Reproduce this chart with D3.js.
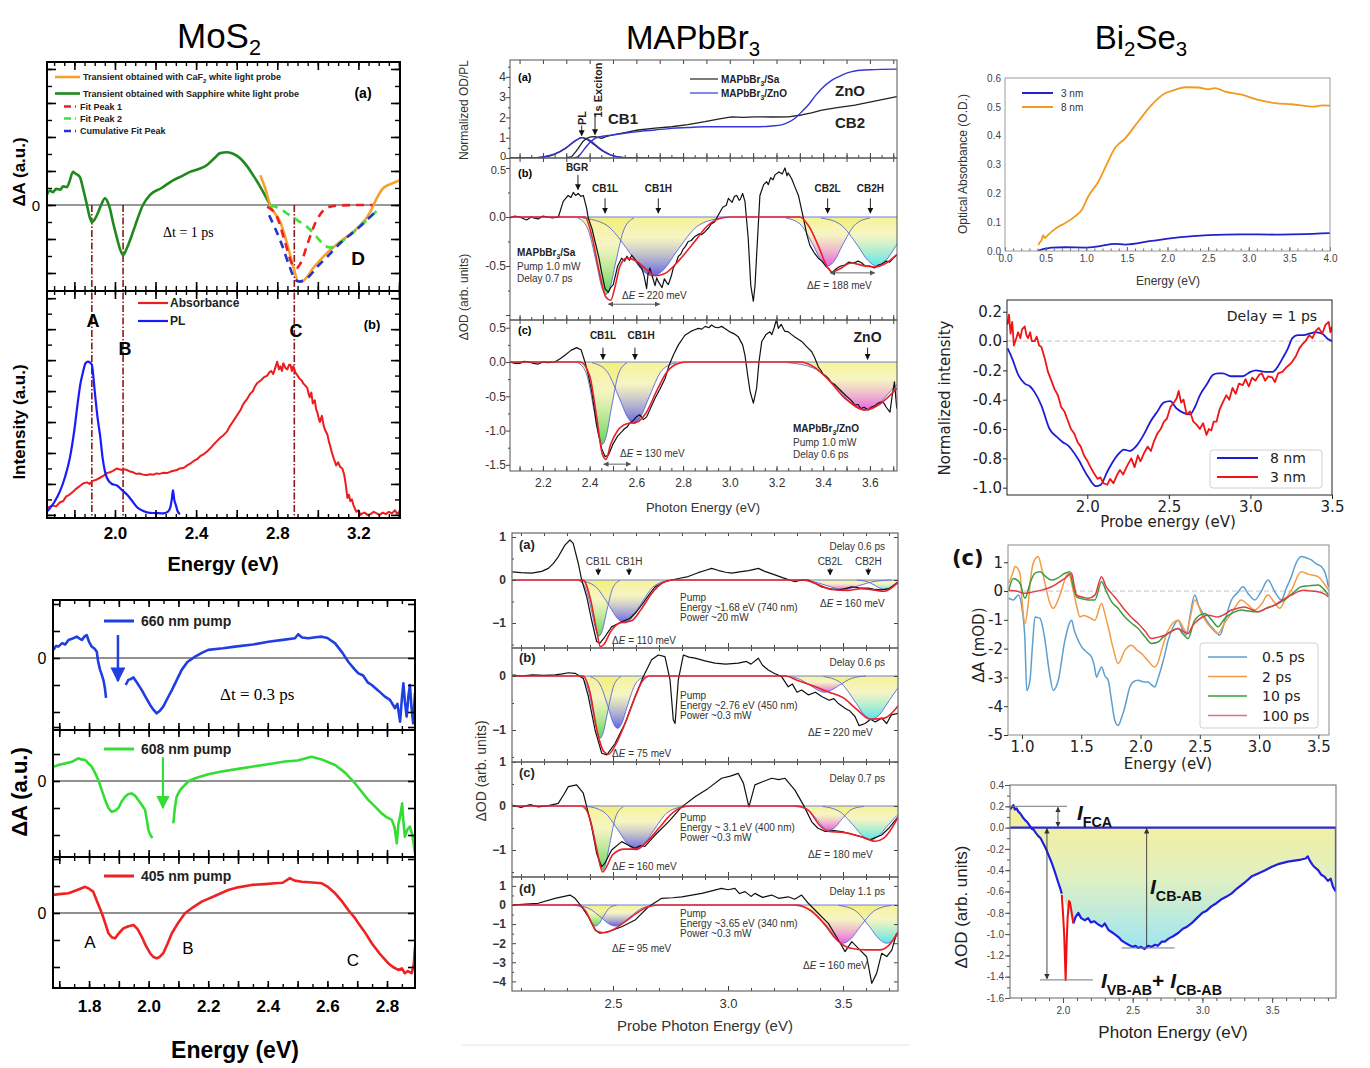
<!DOCTYPE html>
<html>
<head>
<meta charset="utf-8">
<script src="https://cdn.jsdelivr.net/npm/d3@7"></script>
<style>
body{margin:0;background:#fff;}
svg{display:block;font-family:"Liberation Sans",Arial,sans-serif;}
</style>
</head>
<body>
<div id="container"></div>
<script>
// ================= DATA =================
// --- MoS2 (a): transient spectra, energy (eV) vs dA (arb.)
const mosA_sapphire = [[1.664,0.12],[1.68,0.17],[1.694,0.15],[1.71,0.19],[1.73,0.18],[1.745,0.22],[1.763,0.21],[1.775,0.27],[1.793,0.39],[1.805,0.37],[1.827,0.33],[1.845,0.17],[1.862,0.0],[1.875,-0.14],[1.886,-0.2],[1.9,-0.17],[1.911,-0.12],[1.93,-0.01],[1.951,0.08],[1.965,0.03],[1.975,-0.04],[1.99,-0.2],[2.01,-0.39],[2.025,-0.52],[2.04,-0.59],[2.06,-0.5],[2.084,-0.35],[2.11,-0.17],[2.138,0.0],[2.173,0.12],[2.23,0.2],[2.286,0.29],[2.33,0.34],[2.37,0.39],[2.41,0.42],[2.454,0.47],[2.49,0.55],[2.519,0.61],[2.553,0.62],[2.585,0.6],[2.617,0.55],[2.65,0.46],[2.681,0.35],[2.71,0.24],[2.731,0.15],[2.765,0.0]];
const mosA_caf2 = [[2.716,0.35],[2.74,0.2],[2.765,0.0],[2.815,-0.2],[2.864,-0.59],[2.885,-0.78],[2.904,-0.9],[2.928,-0.89],[2.978,-0.74],[3.047,-0.56],[3.111,-0.43],[3.195,-0.27],[3.259,-0.08],[3.274,0.0],[3.323,0.2],[3.373,0.26],[3.405,0.29]];
const mosA_fit1 = [[2.75,-0.02],[2.8,-0.15],[2.84,-0.45],[2.87,-0.68],[2.895,-0.74],[2.92,-0.66],[2.95,-0.45],[2.99,-0.2],[3.03,-0.06],[3.08,-0.01],[3.2,0.0],[3.27,0.0]];
const mosA_fit2 = [[2.765,0.0],[2.81,-0.04],[2.86,-0.12],[2.9,-0.18],[2.948,-0.26],[2.996,-0.38],[3.03,-0.47],[3.06,-0.5],[3.1,-0.46],[3.15,-0.37],[3.2,-0.27],[3.25,-0.16],[3.29,-0.07]];
const mosA_cum = [[2.76,-0.12],[2.82,-0.45],[2.86,-0.72],[2.889,-0.88],[2.91,-0.9],[2.948,-0.86],[3.0,-0.72],[3.05,-0.6],[3.11,-0.45],[3.195,-0.28],[3.284,-0.08]];
const mosMarks = [["A",1.886],["B",2.04],["C",2.884]];
// --- MoS2 (b): absorbance and PL
const mosB_pl = [[1.664,0.02],[1.7,0.08],[1.728,0.15],[1.755,0.25],[1.778,0.37],[1.8,0.55],[1.817,0.73],[1.83,0.85],[1.842,0.92],[1.855,0.98],[1.867,0.99],[1.876,0.985],[1.886,0.97],[1.901,0.79],[1.915,0.62],[1.926,0.52],[1.94,0.36],[1.96,0.24],[1.985,0.2],[2.01,0.19],[2.035,0.16],[2.06,0.13],[2.085,0.09],[2.109,0.05],[2.14,0.025],[2.173,0.013],[2.2,0.012],[2.237,0.01],[2.26,0.02],[2.272,0.045],[2.28,0.1],[2.286,0.16],[2.292,0.1],[2.301,0.06],[2.31,0.02],[2.321,0.005]];
const mosB_abs = [[1.664,0.045],[1.69,0.06],[1.71,0.055],[1.728,0.08],[1.745,0.09],[1.76,0.12],[1.775,0.13],[1.793,0.15],[1.81,0.17],[1.83,0.19],[1.845,0.205],[1.862,0.21],[1.875,0.2],[1.89,0.22],[1.905,0.225],[1.926,0.24],[1.94,0.25],[1.96,0.27],[1.975,0.275],[1.99,0.285],[2.01,0.3],[2.02,0.295],[2.035,0.29],[2.045,0.295],[2.059,0.29],[2.075,0.28],[2.09,0.275],[2.105,0.265],[2.12,0.268],[2.14,0.26],[2.158,0.258],[2.175,0.262],[2.19,0.26],[2.205,0.268],[2.22,0.265],[2.24,0.272],[2.257,0.27],[2.275,0.28],[2.29,0.285],[2.305,0.29],[2.32,0.3],[2.34,0.305],[2.356,0.32],[2.375,0.335],[2.39,0.35],[2.405,0.36],[2.42,0.38],[2.44,0.395],[2.454,0.41],[2.47,0.43],[2.49,0.46],[2.505,0.48],[2.52,0.5],[2.535,0.515],[2.553,0.54],[2.565,0.57],[2.58,0.6],[2.595,0.63],[2.61,0.66],[2.62,0.68],[2.63,0.71],[2.64,0.73],[2.652,0.75],[2.665,0.78],[2.68,0.8],[2.69,0.83],[2.7,0.85],[2.71,0.86],[2.72,0.87],[2.735,0.89],[2.751,0.9],[2.76,0.92],[2.77,0.93],[2.78,0.91],[2.79,0.95],[2.8,0.99],[2.808,0.94],[2.815,0.96],[2.823,0.93],[2.83,0.98],[2.84,0.95],[2.85,0.94],[2.858,0.97],[2.865,0.97],[2.872,0.93],[2.879,0.96],[2.89,0.92],[2.9,0.9],[2.91,0.88],[2.92,0.87],[2.928,0.85],[2.935,0.84],[2.948,0.82],[2.955,0.78],[2.96,0.76],[2.968,0.79],[2.975,0.72],[2.985,0.74],[2.992,0.68],[2.998,0.66],[3.005,0.62],[3.01,0.6],[3.02,0.64],[3.028,0.58],[3.035,0.55],[3.047,0.52],[3.055,0.47],[3.06,0.45],[3.07,0.4],[3.077,0.37],[3.085,0.34],[3.09,0.32],[3.1,0.34],[3.11,0.31],[3.121,0.3],[3.13,0.26],[3.137,0.2],[3.146,0.11],[3.153,0.13],[3.16,0.09],[3.168,0.1],[3.175,0.065],[3.183,0.04],[3.19,0.02],[3.2,0.03],[3.21,0.0],[3.22,0.01],[3.23,0.015],[3.245,0.0],[3.26,0.005],[3.275,0.02],[3.29,0.01],[3.305,0.0],[3.32,0.015],[3.335,0.005],[3.35,0.02],[3.365,0.01],[3.38,0.03],[3.39,0.01],[3.405,0.02]];
// --- MoS2 bottom: three pump wavelengths (null = gap at pump scatter)
const mos660 = [[1.68,0.3],[1.69,0.45],[1.697,0.42],[1.71,0.55],[1.72,0.5],[1.731,0.67],[1.745,0.72],[1.759,0.79],[1.768,0.72],[1.776,0.67],[1.785,0.8],[1.792,0.85],[1.8,0.6],[1.809,0.42],[1.818,0.35],[1.826,0.23],[1.83,-0.1],[1.837,-0.44],[1.842,-0.6],[1.848,-0.81],[1.853,-1.1],[1.857,-1.48],[1.89,null],[1.923,-1.0],[1.932,-0.81],[1.94,-0.78],[1.949,-0.72],[1.96,-0.9],[1.977,-1.19],[1.99,-1.45],[2.005,-1.74],[2.015,-1.9],[2.027,-2.05],[2.038,-1.95],[2.049,-1.8],[2.063,-1.5],[2.078,-1.19],[2.095,-0.8],[2.111,-0.44],[2.13,-0.15],[2.156,0.05],[2.18,0.2],[2.2,0.3],[2.25,0.36],[2.29,0.42],[2.35,0.5],[2.402,0.6],[2.45,0.67],[2.491,0.73],[2.502,0.88],[2.515,0.76],[2.536,0.73],[2.56,0.77],[2.581,0.79],[2.6,0.74],[2.626,0.54],[2.65,0.2],[2.67,-0.14],[2.69,-0.4],[2.704,-0.57],[2.72,-0.65],[2.735,-0.9],[2.749,-1.0],[2.77,-1.2],[2.793,-1.43],[2.81,-1.55],[2.827,-1.86],[2.835,-1.7],[2.844,-2.36],[2.85,-1.5],[2.855,-0.94],[2.86,-1.6],[2.866,-2.17],[2.872,-1.4],[2.877,-1.0],[2.882,-1.8],[2.888,-2.42],[2.894,-1.3]];
const mos608 = [[1.68,0.53],[1.7,0.6],[1.719,0.65],[1.74,0.7],[1.764,0.84],[1.775,0.8],[1.787,0.78],[1.798,0.65],[1.809,0.53],[1.82,0.3],[1.831,0.04],[1.843,-0.35],[1.854,-0.7],[1.865,-1.0],[1.876,-1.14],[1.887,-1.1],[1.898,-1.01],[1.91,-0.75],[1.921,-0.58],[1.932,-0.48],[1.943,-0.46],[1.955,-0.55],[1.965,-0.7],[1.978,-0.9],[1.988,-1.07],[1.995,-1.5],[1.999,-1.81],[2.006,-2.0],[2.012,-2.12],[2.05,null],[2.083,-1.57],[2.088,-1.0],[2.094,-0.58],[2.105,-0.35],[2.116,-0.21],[2.135,0.0],[2.156,0.1],[2.2,0.25],[2.245,0.35],[2.3,0.45],[2.346,0.53],[2.4,0.62],[2.458,0.72],[2.5,0.76],[2.547,0.9],[2.58,0.8],[2.626,0.59],[2.66,0.3],[2.693,-0.09],[2.715,-0.4],[2.737,-0.7],[2.76,-0.95],[2.782,-1.2],[2.8,-1.35],[2.816,-1.44],[2.825,-1.7],[2.833,-2.31],[2.838,-1.6],[2.844,-1.32],[2.851,-0.83],[2.855,-1.5],[2.86,-2.06],[2.868,-1.8],[2.877,-1.69],[2.885,-2.0],[2.894,-2.68]];
const mos405 = [[1.68,0.67],[1.7,0.7],[1.731,0.73],[1.76,0.85],[1.787,0.97],[1.8,0.9],[1.814,0.79],[1.828,0.4],[1.843,-0.01],[1.855,-0.4],[1.865,-0.75],[1.876,-0.9],[1.887,-0.94],[1.9,-0.75],[1.915,-0.57],[1.93,-0.5],[1.949,-0.44],[1.963,-0.6],[1.977,-0.88],[1.99,-1.2],[2.005,-1.49],[2.015,-1.62],[2.027,-1.68],[2.038,-1.62],[2.049,-1.49],[2.063,-1.15],[2.078,-0.75],[2.1,-0.35],[2.122,-0.01],[2.15,0.22],[2.178,0.42],[2.22,0.62],[2.267,0.85],[2.3,0.95],[2.346,1.04],[2.39,1.07],[2.424,1.1],[2.45,1.12],[2.474,1.29],[2.49,1.2],[2.514,1.16],[2.55,1.13],[2.581,1.1],[2.6,0.98],[2.626,0.73],[2.65,0.42],[2.67,0.11],[2.69,-0.15],[2.704,-0.38],[2.725,-0.7],[2.749,-1.12],[2.775,-1.5],[2.804,-1.86],[2.82,-2.0],[2.838,-2.11],[2.85,-2.05],[2.86,-2.23],[2.87,-2.15],[2.883,-2.23],[2.89,-1.9],[2.894,-1.25]];

// --- MAPbBr3 top (a): normalized OD / PL
const mapA_sa = [[2.3,0.0],[2.323,0.07],[2.34,0.3],[2.351,0.48],[2.37,0.8],[2.387,0.97],[2.405,1.04],[2.423,1.05],[2.44,1.0],[2.451,0.97],[2.47,1.05],[2.494,1.13],[2.55,1.25],[2.608,1.38],[2.68,1.47],[2.751,1.54],[2.82,1.64],[2.894,1.79],[2.95,1.92],[3.008,2.03],[3.06,2.0],[3.108,2.03],[3.18,2.02],[3.251,2.03],[3.308,2.12],[3.35,2.22],[3.394,2.36],[3.46,2.48],[3.536,2.61],[3.62,2.8],[3.715,3.02]];
const mapA_zno = [[2.33,0.0],[2.351,0.07],[2.365,0.25],[2.38,0.48],[2.4,0.75],[2.423,0.97],[2.45,1.06],[2.494,1.13],[2.55,1.22],[2.608,1.3],[2.68,1.38],[2.751,1.46],[2.82,1.5],[2.894,1.54],[3.0,1.54],[3.108,1.54],[3.18,1.58],[3.222,1.63],[3.25,1.75],[3.279,1.96],[3.31,2.3],[3.336,2.61],[3.365,3.05],[3.394,3.43],[3.43,3.78],[3.465,4.0],[3.5,4.18],[3.536,4.29],[3.6,4.35],[3.715,4.38]];
const mapA_plSa = [[2.06,0],[2.15,0.0],[2.2,0.04],[2.25,0.18],[2.3,0.5],[2.34,0.85],[2.366,1.0],[2.39,0.9],[2.42,0.65],[2.45,0.38],[2.5,0.1],[2.55,0.02],[2.62,0]];
const mapA_plZno = [[2.06,0],[2.15,0.0],[2.2,0.05],[2.25,0.2],[2.3,0.52],[2.34,0.87],[2.37,1.0],[2.4,0.88],[2.43,0.6],[2.46,0.34],[2.51,0.08],[2.56,0.01],[2.62,0],[2.808,0]];
// --- MAPbBr3 top (b): MAPbBr3/Sa
const mapB_data = [[2.06,-0.01],[2.08,0.01],[2.1,0.0],[2.12,-0.02],[2.13,-0.03],[2.15,0.0],[2.16,-0.01],[2.18,-0.02],[2.2,0.01],[2.22,0.0],[2.24,-0.01],[2.266,0.0],[2.287,0.16],[2.308,0.22],[2.32,0.2],[2.33,0.25],[2.34,0.22],[2.351,0.24],[2.362,0.21],[2.373,0.22],[2.387,0.09],[2.394,-0.01],[2.41,-0.12],[2.423,-0.25],[2.44,-0.42],[2.451,-0.56],[2.466,-0.73],[2.48,-0.77],[2.49,-0.72],[2.501,-0.69],[2.52,-0.5],[2.537,-0.42],[2.55,-0.45],[2.56,-0.4],[2.57,-0.44],[2.58,-0.39],[2.6,-0.45],[2.615,-0.5],[2.623,-0.52],[2.633,-0.6],[2.644,-0.73],[2.65,-0.58],[2.658,-0.52],[2.67,-0.62],[2.68,-0.7],[2.687,-0.62],[2.694,-0.66],[2.71,-0.72],[2.72,-0.63],[2.73,-0.67],[2.737,-0.69],[2.75,-0.6],[2.758,-0.52],[2.77,-0.47],[2.78,-0.4],[2.79,-0.38],[2.8,-0.33],[2.81,-0.3],[2.822,-0.25],[2.835,-0.24],[2.85,-0.2],[2.87,-0.17],[2.88,-0.18],[2.894,-0.15],[2.91,-0.11],[2.92,-0.07],[2.935,-0.05],[2.951,0.02],[2.97,0.1],[2.985,0.12],[2.994,0.19],[3.01,0.15],[3.02,0.21],[3.03,0.22],[3.04,0.17],[3.045,0.18],[3.055,0.24],[3.065,0.16],[3.079,-0.22],[3.09,-0.7],[3.101,-0.86],[3.108,-0.7],[3.115,-0.39],[3.129,0.22],[3.145,0.33],[3.158,0.36],[3.165,0.33],[3.175,0.4],[3.185,0.38],[3.194,0.43],[3.21,0.46],[3.225,0.44],[3.236,0.5],[3.245,0.42],[3.25,0.45],[3.265,0.39],[3.28,0.3],[3.294,0.22],[3.305,0.1],[3.315,-0.01],[3.33,-0.18],[3.343,-0.29],[3.36,-0.36],[3.379,-0.42],[3.395,-0.45],[3.41,-0.5],[3.425,-0.53],[3.436,-0.57],[3.45,-0.54],[3.46,-0.52],[3.475,-0.5],[3.493,-0.49],[3.51,-0.46],[3.53,-0.47],[3.55,-0.45],[3.565,-0.47],[3.58,-0.5],[3.6,-0.5],[3.62,-0.52],[3.636,-0.49],[3.65,-0.48],[3.67,-0.45],[3.685,-0.46],[3.7,-0.42],[3.715,-0.39]];
const mapB_fit = [[2.06,0],[2.38,0],[2.41,-0.2],[2.44,-0.55],[2.47,-0.82],[2.49,-0.85],[2.51,-0.7],[2.53,-0.5],[2.56,-0.42],[2.6,-0.45],[2.65,-0.55],[2.68,-0.6],[2.72,-0.58],[2.78,-0.45],[2.85,-0.25],[2.9,-0.1],[2.95,-0.02],[3.0,0],[3.3,0],[3.34,-0.1],[3.38,-0.3],[3.42,-0.52],[3.44,-0.56],[3.47,-0.53],[3.52,-0.47],[3.58,-0.5],[3.62,-0.51],[3.67,-0.47],[3.716,-0.38]];
const mapB_cb1l = [[2.35,-0.01],[2.39,-0.11],[2.43,-0.48],[2.45,-0.7],[2.47,-0.79],[2.49,-0.7],[2.51,-0.48],[2.55,-0.11],[2.59,-0.01]];
const mapB_cb1h = [[2.37,-0.01],[2.47,-0.08],[2.57,-0.36],[2.62,-0.53],[2.67,-0.6],[2.72,-0.53],[2.77,-0.36],[2.87,-0.08],[2.97,-0.01]];
const mapB_cb2l = [[3.24,-0.01],[3.3,-0.07],[3.36,-0.3],[3.39,-0.44],[3.42,-0.5],[3.45,-0.44],[3.48,-0.3],[3.54,-0.07],[3.6,-0.01]];
const mapB_cb2h = [[3.39,-0.01],[3.47,-0.07],[3.55,-0.3],[3.59,-0.44],[3.63,-0.5],[3.67,-0.44],[3.71,-0.3],[3.79,-0.07],[3.87,-0.01]];
// --- MAPbBr3 top (c): MAPbBr3/ZnO
const mapC_data = [[2.06,0.0],[2.08,-0.02],[2.1,-0.02],[2.12,0.01],[2.14,0.0],[2.16,-0.02],[2.18,-0.03],[2.2,0.0],[2.22,-0.01],[2.251,0.0],[2.275,0.05],[2.294,0.1],[2.32,0.17],[2.344,0.21],[2.363,0.18],[2.38,0.0],[2.395,-0.2],[2.409,-0.43],[2.43,-0.92],[2.451,-1.26],[2.466,-1.38],[2.48,-1.36],[2.49,-1.28],[2.501,-1.19],[2.52,-1.08],[2.537,-1.02],[2.55,-0.97],[2.56,-0.95],[2.57,-0.9],[2.58,-0.87],[2.59,-0.84],[2.6,-0.8],[2.615,-0.77],[2.63,-0.84],[2.644,-0.8],[2.66,-0.68],[2.68,-0.53],[2.7,-0.4],[2.723,-0.24],[2.74,-0.05],[2.758,0.1],[2.78,0.25],[2.808,0.39],[2.835,0.45],[2.85,0.47],[2.865,0.49],[2.88,0.48],[2.895,0.52],[2.91,0.5],[2.922,0.54],[2.935,0.51],[2.95,0.5],[2.965,0.52],[2.979,0.49],[3.0,0.44],[3.02,0.41],[3.036,0.37],[3.055,0.25],[3.065,0.1],[3.077,-0.2],[3.087,-0.43],[3.101,-0.6],[3.115,-0.38],[3.125,0.0],[3.137,0.3],[3.155,0.4],[3.172,0.44],[3.18,0.4],[3.19,0.5],[3.2,0.62],[3.208,0.49],[3.22,0.55],[3.235,0.45],[3.251,0.44],[3.265,0.4],[3.28,0.36],[3.295,0.33],[3.308,0.3],[3.33,0.22],[3.351,0.15],[3.365,0.05],[3.379,-0.07],[3.39,-0.12],[3.4,-0.18],[3.41,-0.2],[3.422,-0.24],[3.435,-0.3],[3.45,-0.33],[3.465,-0.38],[3.479,-0.43],[3.5,-0.5],[3.52,-0.56],[3.536,-0.63],[3.55,-0.62],[3.56,-0.68],[3.575,-0.66],[3.593,-0.7],[3.605,-0.66],[3.62,-0.64],[3.635,-0.6],[3.651,-0.58],[3.66,-0.6],[3.67,-0.66],[3.686,-0.73],[3.695,-0.5],[3.705,-0.29],[3.715,-0.68]];
const mapC_fit = [[2.06,0],[2.36,0],[2.4,-0.2],[2.43,-0.8],[2.455,-1.35],[2.47,-1.42],[2.49,-1.2],[2.52,-1.0],[2.56,-0.9],[2.6,-0.88],[2.64,-0.75],[2.69,-0.4],[2.73,-0.15],[2.78,-0.02],[2.82,0],[3.3,0],[3.36,-0.07],[3.42,-0.25],[3.5,-0.55],[3.58,-0.7],[3.64,-0.62],[3.716,-0.38]];
const mapC_cb1l = [[2.35,-0.01],[2.385,-0.16],[2.42,-0.73],[2.4375,-1.06],[2.455,-1.2],[2.4725,-1.06],[2.49,-0.73],[2.525,-0.16],[2.56,-0.01]];
const mapC_cb1h = [[2.41,-0.01],[2.47,-0.12],[2.53,-0.55],[2.56,-0.79],[2.59,-0.9],[2.62,-0.79],[2.65,-0.55],[2.71,-0.12],[2.77,-0.01]];
const mapC_zno = [[3.25,-0.01],[3.36,-0.09],[3.47,-0.42],[3.525,-0.62],[3.58,-0.7],[3.635,-0.62],[3.69,-0.42],[3.8,-0.09],[3.91,-0.01]];
// --- MAPbBr3 bottom (a)-(d): different pump energies
const pA_data = [[2.062,0.19],[2.1,0.17],[2.147,0.16],[2.19,0.2],[2.219,0.27],[2.24,0.38],[2.262,0.54],[2.291,0.81],[2.313,0.93],[2.327,0.85],[2.349,0.39],[2.364,0.0],[2.386,-0.39],[2.407,-0.93],[2.429,-1.43],[2.443,-1.47],[2.465,-1.32],[2.494,-1.09],[2.538,-0.97],[2.574,-0.89],[2.6,-0.75],[2.625,-0.58],[2.655,-0.35],[2.683,-0.16],[2.72,-0.05],[2.755,0.0],[2.79,0.04],[2.827,0.08],[2.87,0.17],[2.9,0.22],[2.929,0.27],[2.96,0.22],[2.99,0.18],[3.016,0.16],[3.05,0.19],[3.09,0.22],[3.132,0.27],[3.16,0.2],[3.204,0.12],[3.24,0.05],[3.291,-0.04],[3.32,0.0],[3.349,0.0],[3.38,-0.08],[3.407,-0.16],[3.44,-0.2],[3.48,-0.23],[3.51,-0.2],[3.538,-0.16],[3.57,-0.18],[3.61,-0.19],[3.64,-0.22],[3.668,-0.23],[3.7,-0.2],[3.74,-0.04]];
const pA_fit = [[2.06,0],[2.37,0],[2.4,-0.4],[2.43,-1.2],[2.445,-1.55],[2.46,-1.5],[2.49,-1.2],[2.53,-1.0],[2.58,-0.95],[2.62,-0.7],[2.67,-0.3],[2.72,-0.05],[2.76,0],[3.33,0],[3.38,-0.08],[3.45,-0.22],[3.52,-0.24],[3.58,-0.2],[3.64,-0.24],[3.68,-0.26],[3.74,-0.05]];
const pA_cb1l = [[2.35,-0.01],[2.38,-0.18],[2.41,-0.79],[2.425,-1.15],[2.44,-1.3],[2.455,-1.15],[2.47,-0.79],[2.5,-0.18],[2.53,-0.01]];
const pA_cb1h = [[2.355,-0.01],[2.42,-0.135],[2.485,-0.61],[2.5175,-0.88],[2.55,-1.0],[2.5825,-0.88],[2.615,-0.61],[2.68,-0.135],[2.745,-0.01]];
const pA_cb2l = [[3.29,0],[3.36,-0.03],[3.43,-0.13],[3.465,-0.19],[3.5,-0.22],[3.535,-0.19],[3.57,-0.13],[3.64,-0.03],[3.71,0]];
const pA_cb2h = [[3.56,0],[3.6,-0.03],[3.64,-0.13],[3.66,-0.19],[3.68,-0.22],[3.7,-0.19],[3.72,-0.13],[3.76,-0.03],[3.8,0]];
const pB_data = [[2.062,0.02],[2.1,0.0],[2.15,0.02],[2.2,0.01],[2.248,0.02],[2.28,0.04],[2.306,0.06],[2.335,0.05],[2.371,-0.04],[2.393,-0.38],[2.422,-1.0],[2.451,-1.43],[2.473,-1.46],[2.509,-1.25],[2.552,-0.88],[2.596,-0.38],[2.632,-0.01],[2.668,0.3],[2.697,0.39],[2.726,0.36],[2.748,-0.07],[2.762,-0.81],[2.77,-0.88],[2.784,-0.07],[2.806,0.39],[2.83,0.35],[2.857,0.33],[2.9,0.28],[2.943,0.24],[2.99,0.22],[3.045,0.24],[3.08,0.27],[3.1,0.22],[3.132,0.33],[3.15,0.2],[3.175,0.11],[3.2,0.05],[3.233,-0.01],[3.262,-0.2],[3.28,-0.15],[3.3,-0.3],[3.32,-0.26],[3.35,-0.35],[3.38,-0.3],[3.407,-0.38],[3.44,-0.45],[3.46,-0.42],[3.48,-0.51],[3.51,-0.6],[3.53,-0.65],[3.552,-0.75],[3.57,-0.92],[3.596,-0.88],[3.62,-0.8],[3.64,-0.85],[3.668,-0.78],[3.69,-0.88],[3.71,-0.72],[3.74,-0.69]];
const pB_fit = [[2.06,0],[2.37,0],[2.4,-0.3],[2.43,-1.0],[2.46,-1.4],[2.48,-1.45],[2.52,-1.2],[2.56,-0.8],[2.6,-0.35],[2.63,-0.08],[2.66,0],[3.25,0],[3.3,-0.08],[3.38,-0.2],[3.44,-0.3],[3.5,-0.4],[3.56,-0.62],[3.62,-0.8],[3.68,-0.78],[3.74,-0.55]];
const pB_cb1l = [[2.355,-0.01],[2.385,-0.16],[2.415,-0.7],[2.43,-1.01],[2.445,-1.15],[2.46,-1.01],[2.475,-0.7],[2.505,-0.16],[2.535,-0.01]];
const pB_cb1h = [[2.4,-0.01],[2.44,-0.13],[2.48,-0.59],[2.5,-0.86],[2.52,-0.97],[2.54,-0.86],[2.56,-0.59],[2.6,-0.13],[2.64,-0.01]];
const pB_cb2l = [[3.24,0],[3.3,-0.04],[3.36,-0.18],[3.39,-0.26],[3.42,-0.3],[3.45,-0.26],[3.48,-0.18],[3.54,-0.04],[3.6,0]];
const pB_cb2h = [[3.415,-0.01],[3.485,-0.11],[3.555,-0.49],[3.59,-0.71],[3.625,-0.8],[3.66,-0.71],[3.695,-0.49],[3.765,-0.11],[3.835,-0.01]];
const pC_data = [[2.062,0.02],[2.1,-0.03],[2.14,0.03],[2.175,-0.02],[2.22,0.01],[2.262,0.06],[2.285,0.25],[2.306,0.44],[2.342,0.48],[2.371,0.29],[2.386,-0.02],[2.407,-0.47],[2.429,-1.08],[2.451,-1.38],[2.465,-1.3],[2.494,-1.0],[2.538,-0.81],[2.57,-0.9],[2.596,-0.96],[2.62,-0.9],[2.639,-0.92],[2.683,-0.66],[2.741,-0.36],[2.799,-0.02],[2.857,0.21],[2.914,0.4],[2.972,0.63],[3.01,0.68],[3.045,0.74],[3.067,0.52],[3.091,-0.02],[3.117,0.48],[3.15,0.55],[3.19,0.63],[3.22,0.6],[3.248,0.63],[3.291,0.36],[3.328,0.02],[3.364,-0.36],[3.39,-0.5],[3.422,-0.58],[3.46,-0.56],[3.494,-0.58],[3.552,-0.66],[3.59,-0.72],[3.617,-0.77],[3.64,-0.72],[3.668,-0.66],[3.7,-0.5],[3.74,-0.24]];
const pC_fit = [[2.06,0],[2.37,0],[2.4,-0.3],[2.43,-1.0],[2.455,-1.5],[2.47,-1.4],[2.5,-1.1],[2.55,-0.98],[2.6,-0.98],[2.64,-0.85],[2.7,-0.5],[2.75,-0.2],[2.8,-0.03],[2.84,0],[3.3,0],[3.35,-0.1],[3.4,-0.45],[3.44,-0.58],[3.5,-0.6],[3.58,-0.7],[3.64,-0.8],[3.68,-0.72],[3.74,-0.25]];
const pC_cb1l = [[2.365,-0.02],[2.395,-0.2],[2.425,-0.88],[2.44,-1.28],[2.455,-1.45],[2.47,-1.28],[2.485,-0.88],[2.515,-0.2],[2.545,-0.02]];
const pC_cb1h = [[2.39,-0.01],[2.46,-0.135],[2.53,-0.61],[2.565,-0.88],[2.6,-1.0],[2.635,-0.88],[2.67,-0.61],[2.74,-0.135],[2.81,-0.01]];
const pC_cb2l = [[3.29,-0.01],[3.34,-0.07],[3.39,-0.33],[3.415,-0.49],[3.44,-0.55],[3.465,-0.49],[3.49,-0.33],[3.54,-0.07],[3.59,-0.01]];
const pC_cb2h = [[3.41,-0.01],[3.48,-0.11],[3.55,-0.47],[3.585,-0.68],[3.62,-0.77],[3.655,-0.68],[3.69,-0.47],[3.76,-0.11],[3.83,-0.01]];
const pD_data = [[2.062,0.0],[2.12,0.05],[2.175,0.09],[2.248,0.35],[2.313,0.52],[2.335,0.35],[2.364,-0.09],[2.393,-0.61],[2.422,-1.31],[2.443,-1.48],[2.48,-1.4],[2.538,-1.14],[2.596,-0.79],[2.654,-0.09],[2.712,0.35],[2.76,0.38],[2.799,0.43],[2.886,0.61],[2.972,0.87],[3.0,0.8],[3.03,0.87],[3.05,0.6],[3.074,0.7],[3.1,0.45],[3.117,0.61],[3.15,0.4],[3.19,0.52],[3.22,0.35],[3.262,0.43],[3.29,0.3],[3.32,0.52],[3.349,0.09],[3.392,-0.43],[3.436,-0.96],[3.48,-1.83],[3.509,-2.44],[3.538,-1.92],[3.574,-2.36],[3.603,-2.71],[3.625,-4.1],[3.646,-3.58],[3.668,-2.53],[3.69,-2.7],[3.712,-2.36],[3.733,-1.48]];
const pD_fit = [[2.06,0],[2.35,0],[2.38,-0.3],[2.41,-1.0],[2.43,-1.38],[2.46,-1.45],[2.5,-1.3],[2.55,-0.9],[2.6,-0.45],[2.65,-0.1],[2.7,0],[3.3,0],[3.36,-0.3],[3.42,-1.0],[3.48,-1.9],[3.53,-2.25],[3.6,-2.35],[3.66,-2.35],[3.7,-2.1],[3.74,-1.4]];
const pD_cb1l = [[2.335,-0.01],[2.365,-0.15],[2.395,-0.67],[2.41,-0.97],[2.425,-1.1],[2.44,-0.97],[2.455,-0.67],[2.485,-0.15],[2.515,-0.01]];
const pD_cb1h = [[2.33,-0.01],[2.39,-0.15],[2.45,-0.67],[2.48,-0.97],[2.51,-1.1],[2.54,-0.97],[2.57,-0.67],[2.63,-0.15],[2.69,-0.01]];
const pD_cb2l = [[3.29,-0.02],[3.36,-0.27],[3.43,-1.21],[3.465,-1.76],[3.5,-2.0],[3.535,-1.76],[3.57,-1.21],[3.64,-0.27],[3.71,-0.02]];
const pD_cb2h = [[3.48,-0.02],[3.55,-0.27],[3.62,-1.21],[3.655,-1.76],[3.69,-2.0],[3.725,-1.76],[3.76,-1.21],[3.83,-0.27],[3.9,-0.02]];

// --- Bi2Se3 panel 1: optical absorbance
const bi1_8nm = [[0.41,0.021],[0.43,0.03],[0.45,0.038],[0.47,0.055],[0.49,0.045],[0.51,0.05],[0.575,0.067],[0.656,0.084],[0.738,0.096],[0.862,0.12],[0.944,0.142],[1.026,0.19],[1.149,0.24],[1.251,0.3],[1.354,0.357],[1.477,0.39],[1.64,0.449],[1.805,0.507],[1.97,0.547],[2.092,0.559],[2.215,0.568],[2.38,0.567],[2.503,0.561],[2.585,0.565],[2.708,0.553],[2.913,0.542],[3.118,0.524],[3.323,0.513],[3.528,0.509],[3.815,0.501],[3.9,0.505],[4.0,0.504]];
const bi1_3nm = [[0.4,0.0],[0.45,0.005],[0.5,0.008],[0.575,0.012],[0.74,0.013],[0.985,0.012],[1.149,0.016],[1.354,0.025],[1.477,0.022],[1.805,0.035],[2.133,0.047],[2.503,0.055],[2.913,0.058],[3.323,0.057],[4.0,0.062]];
// --- Bi2Se3 panel 2: normalized TA at 1 ps
const bi2_8nm = [[1.512,-0.05],[1.54,-0.12],[1.577,-0.23],[1.617,-0.29],[1.65,-0.31],[1.678,-0.35],[1.719,-0.44],[1.769,-0.6],[1.82,-0.66],[1.85,-0.69],[1.88,-0.71],[1.941,-0.8],[2.002,-0.92],[2.053,-0.99],[2.083,-0.98],[2.123,-0.89],[2.184,-0.78],[2.225,-0.74],[2.26,-0.75],[2.305,-0.71],[2.35,-0.63],[2.387,-0.55],[2.43,-0.48],[2.468,-0.42],[2.508,-0.41],[2.548,-0.46],[2.59,-0.49],[2.63,-0.5],[2.66,-0.45],[2.69,-0.37],[2.73,-0.3],[2.771,-0.23],[2.8,-0.22],[2.832,-0.22],[2.88,-0.24],[2.953,-0.24],[3.0,-0.21],[3.034,-0.2],[3.09,-0.21],[3.135,-0.21],[3.17,-0.17],[3.196,-0.12],[3.23,-0.05],[3.257,0.02],[3.29,0.04],[3.318,0.04],[3.36,0.05],[3.398,0.06],[3.44,0.05],[3.48,0.01],[3.5,0.0]];
const bi2_3nm = [[1.51,0.11],[1.52,0.18],[1.53,0.05],[1.54,0.13],[1.55,-0.03],[1.565,0.02],[1.576,0.06],[1.59,0.02],[1.6,0.08],[1.617,0.1],[1.627,0.04],[1.637,0.02],[1.65,0.06],[1.66,0.0],[1.678,0.0],[1.69,0.03],[1.705,-0.03],[1.719,-0.04],[1.74,-0.12],[1.759,-0.21],[1.78,-0.27],[1.8,-0.33],[1.82,-0.37],[1.84,-0.45],[1.86,-0.48],[1.88,-0.54],[1.9,-0.6],[1.92,-0.63],[1.941,-0.69],[1.96,-0.72],[1.98,-0.78],[2.002,-0.82],[2.02,-0.86],[2.04,-0.9],[2.063,-0.94],[2.08,-0.93],[2.1,-0.97],[2.123,-0.98],[2.14,-0.94],[2.16,-0.97],[2.184,-0.91],[2.2,-0.88],[2.22,-0.91],[2.245,-0.85],[2.27,-0.8],[2.29,-0.86],[2.31,-0.78],[2.326,-0.82],[2.35,-0.76],[2.37,-0.72],[2.39,-0.75],[2.407,-0.69],[2.43,-0.63],[2.45,-0.6],[2.47,-0.55],[2.488,-0.53],[2.51,-0.45],[2.53,-0.42],[2.548,-0.39],[2.56,-0.34],[2.575,-0.42],[2.59,-0.4],[2.609,-0.5],[2.63,-0.48],[2.65,-0.55],[2.67,-0.57],[2.69,-0.6],[2.71,-0.56],[2.731,-0.64],[2.745,-0.6],[2.76,-0.61],[2.775,-0.55],[2.792,-0.55],[2.81,-0.47],[2.83,-0.42],[2.852,-0.37],[2.87,-0.4],[2.89,-0.32],[2.91,-0.36],[2.93,-0.29],[2.953,-0.3],[2.97,-0.26],[2.99,-0.31],[3.01,-0.25],[3.03,-0.27],[3.054,-0.23],[3.07,-0.22],[3.09,-0.27],[3.11,-0.24],[3.135,-0.25],[3.15,-0.28],[3.17,-0.22],[3.196,-0.21],[3.22,-0.18],[3.24,-0.16],[3.257,-0.14],[3.28,-0.1],[3.3,-0.05],[3.32,-0.02],[3.338,0.0],[3.36,0.04],[3.38,0.02],[3.4,0.07],[3.419,0.09],[3.44,0.05],[3.46,0.11],[3.48,0.13],[3.49,0.06],[3.5,0.1]];
// --- Bi2Se3 panel (c): dA (mOD) at four delays
const bic_05 = [[0.888,-0.25],[0.927,-0.31],[0.969,-0.14],[1.0,-0.6],[1.025,-1.71],[1.04,-3.45],[1.067,-3.1],[1.09,-1.8],[1.11,-0.9],[1.152,-0.95],[1.194,-1.71],[1.23,-2.8],[1.264,-3.45],[1.306,-3.1],[1.362,-1.71],[1.419,-1.01],[1.44,-1.35],[1.461,-1.59],[1.503,-1.94],[1.54,-2.1],[1.587,-2.29],[1.61,-2.6],[1.629,-2.99],[1.65,-2.8],[1.671,-2.64],[1.7,-2.95],[1.727,-3.1],[1.755,-3.8],[1.783,-4.49],[1.811,-4.67],[1.84,-4.4],[1.868,-4.03],[1.91,-3.33],[1.94,-3.15],[1.98,-3.1],[2.02,-3.15],[2.064,-3.16],[2.09,-3.25],[2.12,-3.33],[2.15,-3.0],[2.177,-2.64],[2.205,-2.2],[2.233,-1.71],[2.27,-1.3],[2.317,-1.01],[2.35,-1.3],[2.388,-1.53],[2.42,-0.8],[2.457,-0.14],[2.49,-0.5],[2.527,-0.78],[2.57,-1.1],[2.612,-1.3],[2.668,-1.53],[2.72,-0.9],[2.767,-0.31],[2.82,-0.05],[2.864,0.15],[2.91,-0.1],[2.963,-0.31],[3.02,0.0],[3.075,0.38],[3.13,0.0],[3.188,-0.31],[3.23,0.1],[3.272,0.5],[3.31,0.95],[3.356,1.2],[3.4,1.15],[3.441,1.08],[3.48,0.95],[3.525,0.85],[3.56,0.6],[3.586,0.15]];
const bic_2 = [[0.888,0.27],[0.92,0.6],[0.941,0.85],[0.983,0.62],[1.0,-0.3],[1.025,-1.13],[1.053,-0.43],[1.075,0.5],[1.095,0.97],[1.137,1.2],[1.165,0.8],[1.194,0.27],[1.23,-0.35],[1.264,-0.6],[1.29,-0.45],[1.32,-0.14],[1.39,0.62],[1.432,0.03],[1.46,-0.5],[1.489,-0.9],[1.52,-0.85],[1.559,-0.9],[1.615,-1.01],[1.671,-0.43],[1.7,-0.8],[1.727,-1.24],[1.77,-2.0],[1.811,-2.52],[1.868,-2.06],[1.924,-1.88],[1.97,-2.05],[2.008,-2.17],[2.06,-2.4],[2.12,-2.64],[2.15,-2.45],[2.177,-2.06],[2.233,-1.36],[2.317,-1.01],[2.388,-1.42],[2.42,-0.9],[2.457,-0.31],[2.527,-0.9],[2.6,-1.3],[2.654,-1.47],[2.71,-1.1],[2.767,-0.78],[2.85,-0.31],[2.9,-0.45],[2.963,-0.66],[3.02,-0.45],[3.075,-0.14],[3.13,-0.4],[3.174,-0.6],[3.22,-0.3],[3.272,0.03],[3.356,0.67],[3.42,0.58],[3.497,0.5],[3.55,0.25],[3.586,0.03]];
const bic_10 = [[0.888,0.03],[0.927,0.44],[0.983,0.27],[1.025,-0.25],[1.07,0.3],[1.11,0.62],[1.152,0.67],[1.2,0.5],[1.25,0.38],[1.3,0.45],[1.362,0.62],[1.404,0.67],[1.43,0.2],[1.461,-0.2],[1.52,-0.28],[1.559,-0.31],[1.615,-0.31],[1.671,0.32],[1.71,0.0],[1.755,-0.37],[1.81,-0.6],[1.868,-0.9],[1.92,-1.1],[1.98,-1.3],[2.04,-1.6],[2.092,-1.82],[2.148,-1.77],[2.19,-1.6],[2.233,-1.47],[2.317,-1.3],[2.36,-1.5],[2.401,-1.65],[2.457,-1.01],[2.542,-0.78],[2.6,-1.0],[2.654,-1.24],[2.71,-0.95],[2.78,-0.75],[2.85,-0.66],[2.92,-0.7],[2.99,-0.72],[3.06,-0.6],[3.131,-0.49],[3.215,-0.31],[3.29,-0.05],[3.356,0.15],[3.42,0.18],[3.497,0.21],[3.55,0.05],[3.586,-0.14]];
const bic_100 = [[0.888,0.03],[0.95,0.0],[1.025,-0.08],[1.07,-0.05],[1.11,-0.02],[1.18,0.05],[1.25,0.15],[1.31,0.3],[1.362,0.44],[1.419,0.62],[1.44,0.2],[1.461,-0.14],[1.52,-0.22],[1.559,-0.25],[1.615,-0.14],[1.671,0.5],[1.71,0.15],[1.755,-0.08],[1.81,-0.35],[1.868,-0.66],[1.92,-0.9],[1.98,-1.13],[2.04,-1.4],[2.092,-1.65],[2.15,-1.6],[2.205,-1.53],[2.26,-1.4],[2.317,-1.3],[2.36,-1.4],[2.401,-1.47],[2.44,-1.2],[2.485,-1.01],[2.57,-0.84],[2.654,-0.9],[2.71,-0.8],[2.767,-0.66],[2.82,-0.6],[2.878,-0.55],[2.94,-0.65],[2.99,-0.72],[3.06,-0.6],[3.131,-0.49],[3.2,-0.3],[3.272,-0.14],[3.33,-0.02],[3.384,0.03],[3.44,0.0],[3.497,-0.02],[3.55,-0.1],[3.586,-0.2]];
// --- Bi2Se3 panel 4: dOD with spectral-weight annotations
const bi4_blue = [[1.62,0.17],[1.632,0.19],[1.644,0.21],[1.655,0.17],[1.668,0.18],[1.68,0.15],[1.695,0.13],[1.71,0.1],[1.728,0.07],[1.745,0.05],[1.76,0.02],[1.776,-0.01],[1.79,-0.02],[1.805,-0.05],[1.823,-0.08],[1.84,-0.1],[1.855,-0.14],[1.871,-0.18],[1.885,-0.22],[1.9,-0.27],[1.919,-0.33],[1.935,-0.39],[1.95,-0.45],[1.967,-0.52],[1.98,-0.57],[1.991,-0.62],[2.03,null],[2.074,-0.9],[2.09,-0.84],[2.11,-0.8],[2.13,-0.85],[2.157,-0.87],[2.18,-0.85],[2.2,-0.89],[2.225,-0.88],[2.253,-0.91],[2.28,-0.93],[2.3,-0.9],[2.325,-0.96],[2.348,-0.98],[2.37,-1.0],[2.4,-1.03],[2.42,-1.06],[2.444,-1.08],[2.47,-1.1],[2.5,-1.12],[2.52,-1.11],[2.539,-1.13],[2.56,-1.12],[2.585,-1.14],[2.61,-1.11],[2.635,-1.12],[2.66,-1.1],[2.68,-1.11],[2.71,-1.07],[2.73,-1.07],[2.76,-1.04],[2.79,-1.02],[2.826,-0.99],[2.86,-0.95],[2.89,-0.93],[2.921,-0.9],[2.96,-0.85],[3.0,-0.8],[3.03,-0.78],[3.064,-0.74],[3.1,-0.71],[3.14,-0.67],[3.17,-0.65],[3.208,-0.62],[3.25,-0.57],[3.3,-0.52],[3.351,-0.46],[3.4,-0.43],[3.45,-0.4],[3.494,-0.37],[3.55,-0.34],[3.613,-0.32],[3.66,-0.31],[3.708,-0.3],[3.74,-0.29],[3.756,-0.27],[3.77,-0.31],[3.79,-0.35],[3.803,-0.37],[3.83,-0.4],[3.85,-0.44],[3.875,-0.46],[3.9,-0.5],[3.92,-0.48],[3.935,-0.55],[3.947,-0.58],[3.958,-0.6]];
const bi4_red = [[1.991,-0.63],[2.0,-0.8],[2.009,-1.02],[2.019,-1.43],[2.026,-1.1],[2.033,-0.85],[2.043,-0.69],[2.05,-0.7],[2.06,-0.78],[2.074,-0.9]];
const bi4_base = [[1.62,0],[3.958,0],[3.958,-0.6]];

// ================= SETUP =================
let w = 1370;
let h = 1068;
const FONT = "Liberation Sans, Arial, sans-serif";
const DJV = "DejaVu Sans, sans-serif";

let viz = d3.select("#container")
  .append("svg")
    .attr("width", w)
    .attr("height", h)
;
viz.append("rect").attr("width", w).attr("height", h).attr("fill", "#fff");
const defs = viz.append("defs");

function clipRect(id, x0, y0, x1, y1){
  defs.append("clipPath").attr("id", id)
    .append("rect").attr("x", x0).attr("y", y0).attr("width", x1-x0).attr("height", y1-y0);
  return "url(#" + id + ")";
}
function marker(id, color){
  defs.append("marker").attr("id", id)
    .attr("viewBox", "0 0 10 10").attr("refX", 9).attr("refY", 5)
    .attr("markerWidth", 6).attr("markerHeight", 6)
    .attr("orient", "auto-start-reverse")
    .append("path").attr("d", "M0,0 L10,5 L0,10 z").attr("fill", color);
}
marker("arK", "#111");
marker("arG", "#555");
marker("arBlue", "#1f3fe0");
marker("arGreen", "#33dd33");
marker("arMos", "#333");

function vgrad(id, top, bottom){
  let gr = defs.append("linearGradient").attr("id", id)
    .attr("x1", 0).attr("y1", 0).attr("x2", 0).attr("y2", 1);
  gr.append("stop").attr("offset", "0%").attr("stop-color", "#f3ef72").attr("stop-opacity", 0.75);
  gr.append("stop").attr("offset", "35%").attr("stop-color", "#f1ee9a").attr("stop-opacity", 0.6);
  gr.append("stop").attr("offset", "100%").attr("stop-color", bottom).attr("stop-opacity", 0.95);
}
vgrad("gG", "#f3ef72", "#55d455");
vgrad("gB", "#f3ef72", "#5a5ae6");
vgrad("gM", "#f3ef72", "#e25ae2");
vgrad("gC", "#f3ef72", "#4ee4ec");

function scales(xd, xr, yd, yr){
  return {x: d3.scaleLinear().domain(xd).range(xr), y: d3.scaleLinear().domain(yd).range(yr)};
}
function drawLine(g, s, data, color, width, dash, curve){
  return g.append("path").datum(data)
    .attr("d", d3.line()
      .defined(function(d){ return d[1] !== null; })
      .x(function(d){ return s.x(d[0]); })
      .y(function(d){ return s.y(d[1]); })
      .curve(curve || d3.curveLinear))
    .attr("fill", "none")
    .attr("stroke", color)
    .attr("stroke-width", width)
    .attr("stroke-dasharray", dash || null)
    .attr("stroke-linejoin", "round");
}
function tickSet(g, gen, scale, vals, len, tx, ty, color, width){
  let a = g.append("g").attr("transform", "translate(" + tx + "," + ty + ")")
    .call(gen(scale).tickValues(vals).tickSize(len).tickFormat(""));
  a.select(".domain").remove();
  a.selectAll("line").attr("stroke", color).attr("stroke-width", width);
  return a;
}
function tickLabels(g, gen, scale, vals, fmt, tx, ty, pad, st){
  let a = g.append("g").attr("transform", "translate(" + tx + "," + ty + ")")
    .call(gen(scale).tickValues(vals).tickSize(0).tickPadding(pad).tickFormat(fmt));
  a.select(".domain").remove();
  a.selectAll("line").remove();
  a.selectAll("text")
    .attr("font-size", st.fs)
    .attr("font-weight", st.fw || "normal")
    .attr("fill", st.c || "#000")
    .attr("font-family", st.ff || FONT);
  return a;
}
function rng(a, b, step){
  let out = [];
  for (let v = a; v <= b + step*0.01; v += step) out.push(Math.round(v*1000)/1000);
  return out;
}
function txt(g, x, y, str, size, opt){
  opt = opt || {};
  let t = g.append("text").attr("x", x).attr("y", y).text(str)
    .attr("font-size", size)
    .attr("font-family", opt.ff || FONT)
    .attr("font-weight", opt.fw || "normal")
    .attr("font-style", opt.fst || null)
    .attr("fill", opt.c || "#000")
    .attr("text-anchor", opt.anchor || "start");
  if (opt.rot) t.attr("transform", "rotate(" + opt.rot + "," + x + "," + y + ")");
  return t;
}
// text with subscripts: parts are strings or {sub:"..."} or {it:"..."}
function rich(g, x, y, parts, size, opt){
  opt = opt || {};
  let t = g.append("text").attr("x", x).attr("y", y)
    .attr("font-size", size)
    .attr("font-family", opt.ff || FONT)
    .attr("font-weight", opt.fw || "normal")
    .attr("fill", opt.c || "#000")
    .attr("text-anchor", opt.anchor || "start");
  if (opt.rot) t.attr("transform", "rotate(" + opt.rot + "," + x + "," + y + ")");
  let shift = 0;
  parts.forEach(function(p){
    if (typeof p === "string"){
      let s = t.append("tspan").text(p);
      if (shift){ s.attr("dy", -shift); shift = 0; }
    } else if (p.sub !== undefined){
      let d = p.dy || size*0.32;
      t.append("tspan").text(p.sub).attr("font-size", size*(p.scale || 0.68)).attr("dy", d);
      shift = d;
    } else if (p.it !== undefined){
      let s = t.append("tspan").text(p.it).attr("font-style", "italic");
      if (shift){ s.attr("dy", -shift); shift = 0; }
    }
  });
  return t;
}
function frame(g, x0, y0, x1, y1, color, width){
  g.append("rect").attr("x", x0).attr("y", y0).attr("width", x1-x0).attr("height", y1-y0)
    .attr("fill", "none").attr("stroke", color).attr("stroke-width", width);
}
function arrow(g, s, x1, y1, x2, y2, color, width, mk, both){
  let l = g.append("line")
    .attr("x1", s.x(x1)).attr("y1", s.y(y1)).attr("x2", s.x(x2)).attr("y2", s.y(y2))
    .attr("stroke", color).attr("stroke-width", width)
    .attr("marker-end", "url(#" + mk + ")");
  if (both) l.attr("marker-start", "url(#" + mk + ")");
  return l;
}

// ================= COLUMN TITLES =================
rich(viz, 219, 48, ["MoS", {sub:"2", scale:0.62, dy:7}], 35, {anchor:"middle"});
rich(viz, 693, 49, ["MAPbBr", {sub:"3", scale:0.62, dy:7}], 33, {anchor:"middle"});
rich(viz, 1141, 49, ["Bi", {sub:"2", scale:0.62, dy:7}, "Se", {sub:"3", scale:0.62, dy:7}], 33, {anchor:"middle"});

// ================= MoS2 (a) and (b) =================
let gM = viz.append("g");
const mosX = [1.665, 3.405];
let sA = scales(mosX, [47, 400], [-1.0, 1.682], [290, 62]);
let sB = scales(mosX, [47, 400], [-0.02, 1.44], [518, 292]);

// dash-dot guide lines through both panels
mosMarks.forEach(function(m){
  gM.append("line")
    .attr("x1", sA.x(m[1])).attr("x2", sA.x(m[1]))
    .attr("y1", sA.y(0)).attr("y2", sB.y(sB.y.domain()[0]))
    .attr("stroke", "#8b1a1a").attr("stroke-width", 1.6)
    .attr("stroke-dasharray", "7,2,1.5,2");
});
// zero line panel a
gM.append("line").attr("x1", 47).attr("x2", 400).attr("y1", sA.y(0)).attr("y2", sA.y(0))
  .attr("stroke", "#333").attr("stroke-width", 1.2);

let clipA = clipRect("clipMosA", 47, 62, 400, 290);
let cA = gM.append("g").attr("clip-path", clipA);
drawLine(cA, sA, mosA_sapphire, "#1e8a1e", 2.6, null, d3.curveMonotoneX);
drawLine(cA, sA, mosA_caf2, "#f5a030", 2.6, null, d3.curveMonotoneX);
drawLine(cA, sA, mosA_fit2, "#3fe03f", 2.6, "8,6", d3.curveMonotoneX);
drawLine(cA, sA, mosA_fit1, "#ee2020", 2.6, "8,6", d3.curveMonotoneX);
drawLine(cA, sA, mosA_cum, "#2233d0", 2.6, "8,6", d3.curveMonotoneX);

let clipB = clipRect("clipMosB", 47, 292, 400, 518);
let cB = gM.append("g").attr("clip-path", clipB);
drawLine(cB, sB, mosB_abs, "#ee1c1c", 2.0);
drawLine(cB, sB, mosB_pl, "#1a1aff", 2.2, null, d3.curveMonotoneX);

// frames and ticks
[[sA, 62, 290], [sB, 291, 518]].forEach(function(p){
  let s = p[0];
  tickSet(gM, d3.axisBottom, s.x, rng(1.7, 3.4, 0.05), -4, 0, p[2], "#000", 1.4);
  tickSet(gM, d3.axisBottom, s.x, rng(1.8, 3.4, 0.2), -8, 0, p[2], "#000", 1.6);
  tickSet(gM, d3.axisTop, s.x, rng(1.7, 3.4, 0.05), -4, 0, p[1], "#000", 1.4);
  tickSet(gM, d3.axisTop, s.x, rng(1.8, 3.4, 0.2), -8, 0, p[1], "#000", 1.6);
});
tickSet(gM, d3.axisLeft, sA.y, rng(-0.8, 1.6, 0.2), -5, 47, 0, "#000", 1.4);
tickSet(gM, d3.axisRight, sA.y, rng(-0.8, 1.6, 0.2), -5, 400, 0, "#000", 1.4);
tickSet(gM, d3.axisLeft, sA.y, rng(-0.8, 1.6, 0.4), -9, 47, 0, "#000", 1.6);
tickSet(gM, d3.axisRight, sA.y, rng(-0.8, 1.6, 0.4), -9, 400, 0, "#000", 1.6);
tickSet(gM, d3.axisLeft, sB.y, rng(0, 1.4, 0.1), -5, 47, 0, "#000", 1.4);
tickSet(gM, d3.axisRight, sB.y, rng(0, 1.4, 0.1), -5, 400, 0, "#000", 1.4);
tickSet(gM, d3.axisLeft, sB.y, rng(0, 1.4, 0.2), -9, 47, 0, "#000", 1.6);
tickSet(gM, d3.axisRight, sB.y, rng(0, 1.4, 0.2), -9, 400, 0, "#000", 1.6);
frame(gM, 47, 62, 400, 291, "#000", 2);
frame(gM, 47, 291, 400, 518, "#000", 2);
tickLabels(gM, d3.axisBottom, sB.x, [2.0, 2.4, 2.8, 3.2], d3.format(".1f"), 0, 518, 9, {fs:17, fw:"bold"});
txt(gM, 223, 571, "Energy (eV)", 20, {fw:"bold", anchor:"middle"});
txt(gM, 36, sA.y(0) + 6, "0", 15, {anchor:"middle"});
txt(gM, 25, 172, "ΔA (a.u.)", 17, {fw:"bold", anchor:"middle", rot:-90});
txt(gM, 25, 422, "Intensity (a.u.)", 17, {fw:"bold", anchor:"middle", rot:-90});

// legend (a)
const legA = [
  {c:"#f5a030", dash:null, x0:55, x1:80, tx:83, y:77, parts:["Transient obtained with CaF", {sub:"2"}, " white light probe"]},
  {c:"#1e8a1e", dash:null, x0:55, x1:80, tx:83, y:93.5, parts:["Transient obtained with Sapphire white light probe"]},
  {c:"#ee2020", dash:"7,4", x0:64, x1:76, tx:80, y:106.5, parts:["Fit Peak 1"]},
  {c:"#3fe03f", dash:"7,4", x0:64, x1:76, tx:80, y:118.5, parts:["Fit Peak 2"]},
  {c:"#2233d0", dash:"7,4", x0:64, x1:76, tx:80, y:131, parts:["Cumulative Fit Peak"]}
];
legA.forEach(function(l){
  gM.append("line").attr("x1", l.x0).attr("x2", l.x1).attr("y1", l.y).attr("y2", l.y)
    .attr("stroke", l.c).attr("stroke-width", 2.6).attr("stroke-dasharray", l.dash);
  rich(gM, l.tx, l.y + 3.2, l.parts, 9, {fw:"bold", c:"#222"});
});
txt(gM, 363, 98, "(a)", 14, {fw:"bold", anchor:"middle"});
txt(gM, 163, 237, "Δt =  1 ps", 14, {ff:"Liberation Serif, serif"});
txt(gM, 358, 265, "D", 19, {fw:"bold", anchor:"middle"});
// legend (b)
gM.append("line").attr("x1", 138).attr("x2", 168).attr("y1", 303).attr("y2", 303).attr("stroke", "#ee1c1c").attr("stroke-width", 2.2);
txt(gM, 170, 307, "Absorbance", 12, {fw:"bold", c:"#222"});
gM.append("line").attr("x1", 138).attr("x2", 168).attr("y1", 321).attr("y2", 321).attr("stroke", "#1a1aff").attr("stroke-width", 2.2);
txt(gM, 170, 325, "PL", 12, {fw:"bold", c:"#222"});
txt(gM, 372, 329, "(b)", 13, {fw:"bold", anchor:"middle"});
txt(gM, 93, 327, "A", 18, {fw:"bold", anchor:"middle"});
txt(gM, 125, 355, "B", 18, {fw:"bold", anchor:"middle"});
txt(gM, 296, 337, "C", 18, {fw:"bold", anchor:"middle"});

// ================= MoS2 bottom (three pumps) =================
let gM2 = viz.append("g");
const mosX2 = [1.679, 2.894];
let s1 = scales(mosX2, [53, 415], [-2.667, 2.148], [730, 600]);
let s2 = scales(mosX2, [53, 415], [-2.815, 1.889], [857, 730]);
let s3 = scales(mosX2, [53, 415], [-2.778, 2.074], [988, 857]);
const pumpSets = [
  {s:s1, y0:600, y1:730, data:mos660, c:"#1f3fe0", name:"660 nm pump", ly:621},
  {s:s2, y0:730, y1:857, data:mos608, c:"#33dd33", name:"608 nm pump", ly:749},
  {s:s3, y0:857, y1:988, data:mos405, c:"#ee2222", name:"405 nm pump", ly:876}
];
pumpSets.forEach(function(p, i){
  let s = p.s;
  gM2.append("line").attr("x1", 53).attr("x2", 415).attr("y1", s.y(0)).attr("y2", s.y(0))
    .attr("stroke", "#222").attr("stroke-width", 1.2);
  let cp = clipRect("clipMos2_" + i, 53, p.y0, 415, p.y1);
  drawLine(gM2.append("g").attr("clip-path", cp), s, p.data, p.c, 2.6);
  tickSet(gM2, d3.axisBottom, s.x, rng(1.7, 2.85, 0.05), -4, 0, p.y1, "#000", 1.4);
  tickSet(gM2, d3.axisBottom, s.x, rng(1.7, 2.8, 0.1), -7, 0, p.y1, "#000", 1.6);
  tickSet(gM2, d3.axisTop, s.x, rng(1.7, 2.85, 0.05), -4, 0, p.y0, "#000", 1.4);
  tickSet(gM2, d3.axisTop, s.x, rng(1.7, 2.8, 0.1), -7, 0, p.y0, "#000", 1.6);
  tickSet(gM2, d3.axisLeft, s.y, rng(-2, 2, 1), -7, 53, 0, "#000", 1.6);
  tickSet(gM2, d3.axisRight, s.y, rng(-2, 2, 1), -7, 415, 0, "#000", 1.6);
  frame(gM2, 53, p.y0, 415, p.y1, "#000", 2);
  gM2.append("line").attr("x1", 104).attr("x2", 134).attr("y1", p.ly).attr("y2", p.ly)
    .attr("stroke", p.c).attr("stroke-width", 3);
  txt(gM2, 141, p.ly + 5, p.name, 14, {fw:"bold", c:"#222"});
  txt(gM2, 42, s.y(0) + 6, "0", 16, {anchor:"middle"});
});
// pump arrows
gM2.append("line").attr("x1", s1.x(1.897)).attr("x2", s1.x(1.897)).attr("y1", s1.y(0.85)).attr("y2", s1.y(-0.85))
  .attr("stroke", "#1f3fe0").attr("stroke-width", 2.5).attr("marker-end", "url(#arBlue)");
gM2.append("line").attr("x1", s2.x(2.048)).attr("x2", s2.x(2.048)).attr("y1", s2.y(0.88)).attr("y2", s2.y(-1.0))
  .attr("stroke", "#33dd33").attr("stroke-width", 2.2).attr("marker-end", "url(#arGreen)");
txt(gM2, 220, 700, "Δt =  0.3 ps", 17, {ff:"Liberation Serif, serif"});
txt(gM2, 90, 948, "A", 17, {anchor:"middle"});
txt(gM2, 188, 954, "B", 17, {anchor:"middle"});
txt(gM2, 353, 966, "C", 17, {anchor:"middle"});
tickLabels(gM2, d3.axisBottom, s3.x, rng(1.8, 2.8, 0.2), d3.format(".1f"), 0, 988, 12, {fs:17, fw:"bold"});
txt(gM2, 235, 1058, "Energy (eV)", 23, {fw:"bold", anchor:"middle"});
txt(gM2, 27, 792, "ΔA (a.u.)", 22, {fw:"bold", anchor:"middle", rot:-90});

// ================= MAPbBr3 top figure =================
let gP = viz.append("g");
const mapX = [2.059, 3.716];
let pa = scales(mapX, [510, 897], [0, 4.83], [158, 60]);
let pb = scales(mapX, [510, 897], [-1.051, 0.602], [320, 158]);
let pc = scales(mapX, [510, 897], [-1.59, 0.613], [471, 320]);

function fitPanel(g, s, clipId, box, fills, data, fit){
  let c = g.append("g").attr("clip-path", clipRect(clipId, box[0], box[1], box[2], box[3]));
  fills.forEach(function(f){
    c.append("path").datum(f[0])
      .attr("d", d3.area()
        .x(function(d){ return s.x(d[0]); })
        .y0(s.y(0))
        .y1(function(d){ return s.y(d[1]); })
        .curve(d3.curveMonotoneX))
      .attr("fill", "url(#" + f[1] + ")");
  });
  fills.forEach(function(f){ drawLine(c, s, f[0], "#5866d8", 0.9, null, d3.curveMonotoneX); });
  drawLine(c, s, [[s.x.domain()[0], 0], [s.x.domain()[1], 0]], "#6270e0", 0.9);
  if (data) drawLine(c, s, data, "#111", 1.2);
  if (fit) drawLine(c, s, fit, "#e8202a", 1.6, null, d3.curveMonotoneX);
}

// (a)
let cPa = gP.append("g").attr("clip-path", clipRect("clipPa", 510, 60, 897, 158));
drawLine(cPa, pa, mapA_plSa, "#222", 1.3, null, d3.curveMonotoneX);
drawLine(cPa, pa, mapA_plZno, "#3535d8", 1.3, null, d3.curveMonotoneX);
drawLine(cPa, pa, mapA_sa, "#222", 1.3);
drawLine(cPa, pa, mapA_zno, "#3535d8", 1.4, null, d3.curveMonotoneX);
// (b), (c)
fitPanel(gP, pb, "clipPb", [510, 158, 897, 320],
  [[mapB_cb1h, "gB"], [mapB_cb1l, "gG"], [mapB_cb2l, "gM"], [mapB_cb2h, "gC"]], mapB_data, mapB_fit);
fitPanel(gP, pc, "clipPc", [510, 320, 897, 471],
  [[mapC_cb1h, "gB"], [mapC_cb1l, "gG"], [mapC_zno, "gM"]], mapC_data, mapC_fit);

[[pa, 60, 158], [pb, 158, 320], [pc, 320, 471]].forEach(function(p){
  let s = p[0];
  tickSet(gP, d3.axisBottom, s.x, rng(2.1, 3.7, 0.05), -3, 0, p[2], "#444", 1);
  tickSet(gP, d3.axisBottom, s.x, rng(2.1, 3.7, 0.1), -5, 0, p[2], "#444", 1);
  tickSet(gP, d3.axisTop, s.x, rng(2.1, 3.7, 0.1), -4, 0, p[1], "#444", 1);
  frame(gP, 510, p[1], 897, p[2], "#555", 1);
});
tickSet(gP, d3.axisLeft, pa.y, [0, 1, 2, 3, 4], 4, 510, 0, "#444", 1);
tickSet(gP, d3.axisLeft, pa.y, [0.5, 1.5, 2.5, 3.5, 4.5], 2, 510, 0, "#444", 1);
tickSet(gP, d3.axisLeft, pb.y, [-1.0, -0.5, 0, 0.5], 4, 510, 0, "#444", 1);
tickSet(gP, d3.axisLeft, pb.y, [-0.75, -0.25, 0.25], 2, 510, 0, "#444", 1);
tickSet(gP, d3.axisLeft, pc.y, [-1.5, -1.0, -0.5, 0, 0.5], 4, 510, 0, "#444", 1);
tickSet(gP, d3.axisLeft, pc.y, [-1.25, -0.75, -0.25, 0.25], 2, 510, 0, "#444", 1);
tickLabels(gP, d3.axisLeft, pa.y, [1, 2, 3, 4], d3.format("d"), 506, 0, 0, {fs:12, c:"#333"});
tickLabels(gP, d3.axisLeft, pa.y, [0], d3.format("d"), 506, -2, 0, {fs:11, c:"#333"});
tickLabels(gP, d3.axisLeft, pb.y, [-0.5, 0], function(d){ return d.toFixed(1); }, 506, 0, 0, {fs:12, c:"#333"});
tickLabels(gP, d3.axisLeft, pb.y, [0.5], function(d){ return d.toFixed(1); }, 506, 2, 0, {fs:11, c:"#333"});
tickLabels(gP, d3.axisLeft, pc.y, [-1.5, -1.0, -0.5, 0, 0.5], function(d){ return d.toFixed(1); }, 506, 0, 0, {fs:12, c:"#333"});
tickLabels(gP, d3.axisBottom, pc.x, rng(2.2, 3.6, 0.2), d3.format(".1f"), 0, 471, 7, {fs:12, c:"#333"});
txt(gP, 703, 512, "Photon Energy (eV)", 13, {anchor:"middle", c:"#333"});
txt(gP, 468, 110, "Normalized OD/PL", 12, {anchor:"middle", rot:-90, c:"#333"});
txt(gP, 468, 297, "ΔOD (arb. units)", 12, {anchor:"middle", rot:-90, c:"#333"});
// panel (a) labels
txt(gP, 518, 81, "(a)", 11, {fw:"bold"});
gP.append("line").attr("x1", 690).attr("x2", 718).attr("y1", 79).attr("y2", 79).attr("stroke", "#222").attr("stroke-width", 1.2);
rich(gP, 721, 83, ["MAPbBr", {sub:"3"}, "/Sa"], 10, {fw:"bold", c:"#222"});
gP.append("line").attr("x1", 690).attr("x2", 718).attr("y1", 93).attr("y2", 93).attr("stroke", "#3535d8").attr("stroke-width", 1.2);
rich(gP, 721, 97, ["MAPbBr", {sub:"3"}, "/ZnO"], 10, {fw:"bold", c:"#222"});
txt(gP, 835, 96, "ZnO", 15, {fw:"bold", c:"#222"});
txt(gP, 835, 128, "CB2", 15, {fw:"bold", c:"#222"});
txt(gP, 608, 124, "CB1", 15, {fw:"bold", c:"#222"});
txt(gP, 586, 118, "PL", 11, {fw:"bold", anchor:"middle", rot:-90, c:"#222"});
txt(gP, 602, 90, "1s Exciton", 11, {fw:"bold", anchor:"middle", rot:-90, c:"#222"});
arrow(gP, pa, 2.366, 1.6, 2.366, 1.1, "#222", 1, "arK");
arrow(gP, pa, 2.423, 2.2, 2.423, 1.15, "#222", 1, "arK");
// panel (b) labels
txt(gP, 518, 177, "(b)", 11, {fw:"bold"});
txt(gP, 577, 171, "BGR", 10, {fw:"bold", anchor:"middle", c:"#222"});
arrow(gP, pb, 2.35, 0.43, 2.35, 0.28, "#222", 1, "arK");
[["CB1L", 2.466], ["CB1H", 2.694], ["CB2L", 3.419], ["CB2H", 3.602]].forEach(function(a){
  txt(gP, pb.x(a[1]), 192, a[0], 10, {fw:"bold", anchor:"middle", c:"#222"});
  arrow(gP, pb, a[1], 0.19, a[1], 0.04, "#222", 1, "arK");
});
rich(gP, 517, 256, ["MAPbBr", {sub:"3"}, "/Sa"], 10, {fw:"bold", c:"#222"});
txt(gP, 517, 270, "Pump 1.0 mW", 10, {c:"#333"});
txt(gP, 517, 282, "Delay 0.7 ps", 10, {c:"#333"});
rich(gP, 622, 299, ["Δ", {it:"E"}, " = 220 meV"], 10, {c:"#333"});
arrow(gP, pb, 2.48, -0.89, 2.7, -0.89, "#555", 0.9, "arG", true);
rich(gP, 807, 289, ["Δ", {it:"E"}, " = 188 meV"], 10, {c:"#333"});
arrow(gP, pb, 3.43, -0.57, 3.62, -0.57, "#555", 0.9, "arG", true);
// panel (c) labels
txt(gP, 518, 334, "(c)", 11, {fw:"bold"});
txt(gP, pc.x(2.457), 339, "CB1L", 10, {fw:"bold", anchor:"middle", c:"#222"});
txt(gP, pc.x(2.62), 339, "CB1H", 10, {fw:"bold", anchor:"middle", c:"#222"});
arrow(gP, pc, 2.457, 0.21, 2.457, 0.04, "#222", 1, "arK");
arrow(gP, pc, 2.594, 0.21, 2.594, 0.04, "#222", 1, "arK");
txt(gP, pc.x(3.59), 342, "ZnO", 14, {fw:"bold", anchor:"middle", c:"#222"});
arrow(gP, pc, 3.59, 0.21, 3.59, 0.04, "#222", 1, "arK");
rich(gP, 620, 457, ["Δ", {it:"E"}, " = 130 meV"], 10, {c:"#333"});
arrow(gP, pc, 2.46, -1.49, 2.575, -1.49, "#555", 0.9, "arG", true);
rich(gP, 793, 432, ["MAPbBr", {sub:"3"}, "/ZnO"], 10, {fw:"bold", c:"#222"});
txt(gP, 793, 446, "Pump 1.0 mW", 10, {c:"#333"});
txt(gP, 793, 458, "Delay 0.6 ps", 10, {c:"#333"});

// ================= MAPbBr3 bottom figure =================
let gQ = viz.append("g");
const mapX2 = [2.061, 3.739];
let qa = scales(mapX2, [512, 898], [-1.581, 1.093], [648, 533]);
let qb = scales(mapX2, [512, 898], [-1.593, 0.519], [762, 648]);
let qc = scales(mapX2, [512, 898], [-1.614, 1.0], [877, 762]);
let qd = scales(mapX2, [512, 898], [-4.503, 1.466], [991, 877]);
const qPanels = [
  {s:qa, y0:533, y1:648, fills:[[pA_cb1h,"gB"],[pA_cb1l,"gG"],[pA_cb2l,"gM"],[pA_cb2h,"gC"]], data:pA_data, fit:pA_fit, ticks:[-1,0,1], minor:[-1.5,-0.5,0.5]},
  {s:qb, y0:648, y1:762, fills:[[pB_cb1h,"gB"],[pB_cb1l,"gG"],[pB_cb2l,"gM"],[pB_cb2h,"gC"]], data:pB_data, fit:pB_fit, ticks:[-1,0], minor:[-1.5,-0.5]},
  {s:qc, y0:762, y1:877, fills:[[pC_cb1h,"gB"],[pC_cb1l,"gG"],[pC_cb2l,"gM"],[pC_cb2h,"gC"]], data:pC_data, fit:pC_fit, ticks:[-1,0,1], minor:[-1.5,-0.5,0.5]},
  {s:qd, y0:877, y1:991, fills:[[pD_cb1h,"gB"],[pD_cb1l,"gG"],[pD_cb2l,"gM"],[pD_cb2h,"gC"]], data:pD_data, fit:pD_fit, ticks:[-4,-3,-2,-1,0,1], minor:[-3.5,-2.5,-1.5,-0.5,0.5]}
];
qPanels.forEach(function(p, i){
  fitPanel(gQ, p.s, "clipQ" + i, [512, p.y0, 898, p.y1], p.fills, p.data, p.fit);
  tickSet(gQ, d3.axisBottom, p.s.x, rng(2.1, 3.7, 0.1), -3, 0, p.y1, "#444", 1);
  tickSet(gQ, d3.axisBottom, p.s.x, [2.5, 3.0, 3.5], -5, 0, p.y1, "#444", 1);
  tickSet(gQ, d3.axisTop, p.s.x, rng(2.1, 3.7, 0.1), -3, 0, p.y0, "#444", 1);
  tickSet(gQ, d3.axisLeft, p.s.y, p.ticks, -4, 512, 0, "#444", 1);
  tickSet(gQ, d3.axisLeft, p.s.y, p.minor, -2, 512, 0, "#444", 1);
  tickSet(gQ, d3.axisRight, p.s.y, p.ticks, -4, 898, 0, "#444", 1);
  frame(gQ, 512, p.y0, 898, p.y1, "#666", 1.2);
  tickLabels(gQ, d3.axisLeft, p.s.y, p.ticks, d3.format("d"), 506, 0, 0, {fs:12, fw:"bold", c:"#333"});
});
tickLabels(gQ, d3.axisBottom, qd.x, [2.5, 3.0, 3.5], d3.format(".1f"), 0, 991, 8, {fs:13, c:"#333"});
txt(gQ, 705, 1031, "Probe Photon Energy (eV)", 15, {anchor:"middle", c:"#333"});
txt(gQ, 486, 771, "ΔOD (arb. units)", 14, {anchor:"middle", rot:-90, c:"#333"});
gQ.append("line").attr("x1", 462).attr("x2", 910).attr("y1", 1045).attr("y2", 1045).attr("stroke", "#e4e4e4").attr("stroke-width", 1);
// annotations
const qNotes = [
  {s:qa, tag:"(a)", ty:549, delay:"Delay 0.6 ps", dy:550, pump:["Pump","Energy ~1.68 eV (740 nm)","Power ~20 mW"], py:601,
   de:[["110", 612, 644], ["160", 820, 607]]},
  {s:qb, tag:"(b)", ty:662, delay:"Delay 0.6 ps", dy:666, pump:["Pump","Energy ~2.76 eV (450 nm)","Power ~0.3 mW"], py:699,
   de:[["75", 612, 757], ["220", 808, 736]]},
  {s:qc, tag:"(c)", ty:777, delay:"Delay 0.7 ps", dy:782, pump:["Pump","Energy ~ 3.1 eV (400 nm)","Power ~0.3 mW"], py:821,
   de:[["160", 612, 870], ["180", 808, 858]]},
  {s:qd, tag:"(d)", ty:893, delay:"Delay 1.1 ps", dy:895, pump:["Pump","Energy ~3.65 eV (340 nm)","Power ~0.3 mW"], py:917,
   de:[["95", 612, 952], ["160", 803, 969]]}
];
qNotes.forEach(function(n){
  txt(gQ, 519, n.ty, n.tag, 13, {fw:"bold", c:"#222"});
  txt(gQ, 885, n.dy, n.delay, 10, {anchor:"end", c:"#333"});
  n.pump.forEach(function(line, k){
    txt(gQ, 680, n.py + k*10, line, 10, {c:"#333"});
  });
  n.de.forEach(function(d){
    rich(gQ, d[1], d[2], ["Δ", {it:"E"}, " = " + d[0] + " meV"], 10, {c:"#333"});
  });
});
[["CB1L", 2.436], ["CB1H", 2.57], ["CB2L", 3.444], ["CB2H", 3.61]].forEach(function(a){
  txt(gQ, qa.x(a[1]), 565, a[0], 10, {anchor:"middle", c:"#333"});
  arrow(gQ, qa, a[1], 0.28, a[1], 0.12, "#333", 1, "arK");
});

// ================= Bi2Se3 panel 1: absorbance =================
let gB1 = viz.append("g");
let b1 = scales([0, 4], [1005, 1330], [0, 0.6], [251, 78]);
let cB1 = gB1.append("g").attr("clip-path", clipRect("clipB1", 1005, 78, 1330, 251));
drawLine(cB1, b1, bi1_8nm, "#f39a1e", 1.8, null, d3.curveMonotoneX);
drawLine(cB1, b1, bi1_3nm, "#2222cc", 1.8, null, d3.curveMonotoneX);
tickSet(gB1, d3.axisBottom, b1.x, rng(0, 4, 0.1), -2.5, 0, 251, "#666", 1);
tickSet(gB1, d3.axisBottom, b1.x, rng(0, 4, 0.5), -4, 0, 251, "#666", 1);
frame(gB1, 1005, 78, 1330, 251, "#9a9a9a", 1);
tickLabels(gB1, d3.axisLeft, b1.y, rng(0, 0.6, 0.1), d3.format(".1f"), 1001, 0, 0, {fs:10, c:"#444"});
tickLabels(gB1, d3.axisBottom, b1.x, rng(0, 4, 0.5), d3.format(".1f"), 0, 251, 4, {fs:10, c:"#444"});
txt(gB1, 1168, 285, "Energy (eV)", 12, {anchor:"middle", c:"#333"});
txt(gB1, 967, 164, "Optical Absorbance (O.D.)", 12, {anchor:"middle", rot:-90, c:"#333"});
gB1.append("line").attr("x1", 1022).attr("x2", 1053).attr("y1", 93).attr("y2", 93).attr("stroke", "#2222cc").attr("stroke-width", 2);
txt(gB1, 1061, 97, "3 nm", 10, {c:"#333"});
gB1.append("line").attr("x1", 1022).attr("x2", 1053).attr("y1", 107).attr("y2", 107).attr("stroke", "#f39a1e").attr("stroke-width", 2);
txt(gB1, 1061, 111, "8 nm", 10, {c:"#333"});

// ================= Bi2Se3 panel 2: normalized TA =================
let gB2 = viz.append("g");
let b2 = scales([1.508, 3.5], [1007, 1332], [-1.05, 0.28], [495, 300]);
gB2.append("line").attr("x1", 1007).attr("x2", 1332).attr("y1", b2.y(0)).attr("y2", b2.y(0))
  .attr("stroke", "#c4c4c4").attr("stroke-dasharray", "5,3").attr("stroke-width", 1);
let cB2 = gB2.append("g").attr("clip-path", clipRect("clipB2", 1007, 300, 1332, 495));
drawLine(cB2, b2, bi2_8nm, "#1d1dd6", 1.8, null, d3.curveMonotoneX);
drawLine(cB2, b2, bi2_3nm, "#f01414", 1.8);
frame(gB2, 1007, 300, 1332, 495, "#222", 1);
tickSet(gB2, d3.axisLeft, b2.y, rng(-1.0, 0.2, 0.2), 4, 1007, 0, "#222", 1);
tickSet(gB2, d3.axisBottom, b2.x, [2.0, 2.5, 3.0, 3.5], 4, 0, 495, "#222", 1);
tickLabels(gB2, d3.axisLeft, b2.y, rng(-1.0, 0.2, 0.2), function(d){ return d.toFixed(1); }, 1002, 0, 0, {fs:15, c:"#222", ff:DJV});
tickLabels(gB2, d3.axisBottom, b2.x, [2.0, 2.5, 3.0, 3.5], d3.format(".1f"), 0, 495, 6, {fs:15, c:"#222", ff:DJV});
txt(gB2, 1168, 527, "Probe energy  (eV)", 15, {anchor:"middle", c:"#222", ff:DJV});
txt(gB2, 950, 398, "Normalized intensity", 15, {anchor:"middle", rot:-90, c:"#222", ff:DJV});
txt(gB2, 1272, 321, "Delay = 1 ps", 14, {anchor:"middle", c:"#222", ff:DJV});
gB2.append("rect").attr("x", 1210).attr("y", 450).attr("width", 112).attr("height", 38).attr("rx", 3)
  .attr("fill", "#fff").attr("stroke", "#d0d0d0");
gB2.append("line").attr("x1", 1217).attr("x2", 1258).attr("y1", 458).attr("y2", 458).attr("stroke", "#1d1dd6").attr("stroke-width", 1.8);
txt(gB2, 1270, 463, "8 nm", 14, {c:"#222", ff:DJV});
gB2.append("line").attr("x1", 1217).attr("x2", 1258).attr("y1", 477).attr("y2", 477).attr("stroke", "#f01414").attr("stroke-width", 1.8);
txt(gB2, 1270, 482, "3 nm", 14, {c:"#222", ff:DJV});

// ================= Bi2Se3 panel (c): delays =================
let gB3 = viz.append("g");
let b3 = scales([0.882, 3.59], [1008, 1329], [-5.0, 1.6], [735, 545]);
gB3.append("line").attr("x1", 1008).attr("x2", 1329).attr("y1", b3.y(0)).attr("y2", b3.y(0))
  .attr("stroke", "#c4c4c4").attr("stroke-dasharray", "5,3").attr("stroke-width", 1);
let cB3 = gB3.append("g").attr("clip-path", clipRect("clipB3", 1008, 545, 1329, 735));
const delaySets = [
  {data:bic_05, c:"#5b9fd0", name:"0.5 ps"},
  {data:bic_2, c:"#f39b45", name:"2 ps"},
  {data:bic_10, c:"#3c9c3c", name:"10 ps"},
  {data:bic_100, c:"#e23c44", name:"100 ps"}
];
delaySets.forEach(function(d){ drawLine(cB3, b3, d.data, d.c, 1.5, null, d3.curveMonotoneX); });
frame(gB3, 1008, 545, 1329, 735, "#8a8a8a", 1);
tickSet(gB3, d3.axisLeft, b3.y, rng(-5, 1, 1), 4, 1008, 0, "#333", 1);
tickSet(gB3, d3.axisBottom, b3.x, rng(1.0, 3.5, 0.5), 4, 0, 735, "#333", 1);
tickLabels(gB3, d3.axisLeft, b3.y, rng(-5, 1, 1), function(d){ return String(d); }, 1003, 0, 0, {fs:15, c:"#222", ff:DJV});
tickLabels(gB3, d3.axisBottom, b3.x, rng(1.0, 3.5, 0.5), d3.format(".1f"), 0, 735, 6, {fs:15, c:"#222", ff:DJV});
txt(gB3, 1168, 769, "Energy (eV)", 15, {anchor:"middle", c:"#222", ff:DJV});
txt(gB3, 984, 645, "ΔA (mOD)", 15, {anchor:"middle", rot:-90, c:"#222", ff:DJV});
txt(gB3, 952, 565, "(c)", 21, {fw:"bold", c:"#111", ff:DJV});
gB3.append("rect").attr("x", 1200).attr("y", 643).attr("width", 118).attr("height", 85).attr("rx", 3)
  .attr("fill", "#fff").attr("fill-opacity", 0.85).attr("stroke", "#d0d0d0");
delaySets.forEach(function(d, i){
  let yy = 657 + i*19.5;
  gB3.append("line").attr("x1", 1208).attr("x2", 1247).attr("y1", yy).attr("y2", yy)
    .attr("stroke", i === 3 ? "#e07080" : d.c).attr("stroke-width", 1.5);
  txt(gB3, 1262, yy + 5, d.name, 14, {c:"#222", ff:DJV});
});

// ================= Bi2Se3 panel 4: spectral weights =================
let gB4 = viz.append("g");
let b4 = scales([1.62, 3.958], [1010, 1336], [-1.6, 0.4], [998, 785]);
let fg = defs.append("linearGradient").attr("id", "gBi").attr("gradientUnits", "userSpaceOnUse")
  .attr("x1", 0).attr("y1", b4.y(0.1)).attr("x2", 0).attr("y2", b4.y(-1.13));
fg.append("stop").attr("offset", "0%").attr("stop-color", "#f4ef9c");
fg.append("stop").attr("offset", "45%").attr("stop-color", "#e2f0c0");
fg.append("stop").attr("offset", "100%").attr("stop-color", "#9fe6f2");
let cB4 = gB4.append("g").attr("clip-path", clipRect("clipB4", 1010, 785, 1336, 998));
cB4.append("path").datum(bi4_blue.filter(function(d){ return d[1] !== null; }))
  .attr("d", d3.area().x(function(d){ return b4.x(d[0]); }).y0(b4.y(0)).y1(function(d){ return b4.y(d[1]); }))
  .attr("fill", "url(#gBi)");
drawLine(cB4, b4, bi4_base, "#2a2ad0", 2.2);
drawLine(cB4, b4, bi4_blue, "#1f1fe0", 2.2);
drawLine(cB4, b4, bi4_red, "#f01010", 2.0);
frame(gB4, 1010, 785, 1336, 998, "#808080", 1.2);
tickSet(gB4, d3.axisLeft, b4.y, rng(-1.6, 0.4, 0.1), 3, 1010, 0, "#555", 1);
tickSet(gB4, d3.axisLeft, b4.y, rng(-1.6, 0.4, 0.2), 5, 1010, 0, "#555", 1);
tickSet(gB4, d3.axisBottom, b4.x, rng(1.7, 3.9, 0.1), 3, 0, 998, "#555", 1);
tickSet(gB4, d3.axisBottom, b4.x, [2.0, 2.5, 3.0, 3.5], 5, 0, 998, "#555", 1);
tickLabels(gB4, d3.axisLeft, b4.y, rng(-1.6, 0.4, 0.2), function(d){ return d.toFixed(1); }, 1004, 0, 0, {fs:10, c:"#444"});
tickLabels(gB4, d3.axisBottom, b4.x, [2.0, 2.5, 3.0, 3.5], d3.format(".1f"), 0, 998, 9, {fs:10, c:"#444"});
txt(gB4, 1173, 1038, "Photon Energy (eV)", 17, {anchor:"middle", c:"#222"});
txt(gB4, 967, 907, "ΔOD (arb. units)", 17, {anchor:"middle", rot:-90, c:"#222"});
// annotation guides
const guideLines = [[1.62, 2.029, 0.2], [1.835, 2.215, -1.43], [2.42, 2.8, -1.13]];
guideLines.forEach(function(gl){
  gB4.append("line").attr("x1", b4.x(gl[0])).attr("x2", b4.x(gl[1])).attr("y1", b4.y(gl[2])).attr("y2", b4.y(gl[2]))
    .attr("stroke", "#777").attr("stroke-width", 1);
});
arrow(gB4, b4, 1.964, 0.19, 1.964, 0.01, "#333", 0.9, "arMos", true);
arrow(gB4, b4, 1.885, -0.01, 1.885, -1.42, "#333", 0.9, "arMos", true);
arrow(gB4, b4, 2.6, -1.12, 2.6, -0.01, "#333", 0.9, "arMos");
rich(gB4, 1077, 820, ["I", {sub:"FCA"}], 21, {fw:"bold", c:"#111"}).select("tspan").attr("font-style", "italic");
rich(gB4, 1150, 894, ["I", {sub:"CB-AB"}], 21, {fw:"bold", c:"#111"}).select("tspan").attr("font-style", "italic");
let vb = rich(gB4, 1101, 988, ["I", {sub:"VB-AB"}, "+ ", "I", {sub:"CB-AB"}], 21, {fw:"bold", c:"#111"});
vb.selectAll("tspan").filter(function(){ return d3.select(this).text() === "I"; }).attr("font-style", "italic");
</script>
</body>
</html>
